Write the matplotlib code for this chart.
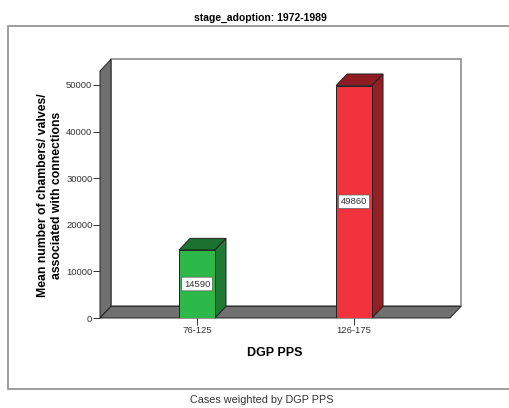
import matplotlib
matplotlib.use("Agg")
import matplotlib.pyplot as plt
from matplotlib.patches import Polygon, Rectangle

plt.rcParams['font.family'] = ['Liberation Sans', 'DejaVu Sans']

# data
categories = ["76-125", "126-175"]
values = [14590, 49860]
bar_labels = ["14590", "49860"]
y_ticks = [0, 10000, 20000, 30000, 40000, 50000]
front_colors = ["#2db84a", "#f2323c"]
top_colors = ["#1c7030", "#8f1c22"]
side_colors = ["#1f7a33", "#941f25"]

W, H = 510, 408
fig = plt.figure(figsize=(W / 100, H / 100), dpi=100)
fig.patch.set_facecolor("white")

# grey frame round the chart, has to sit under the axes
fig.add_artist(Rectangle((8 / W, 1 - 389 / H), 510 / W, 363 / H, transform=fig.transFigure,
                         fc="white", ec="#8c8c8c", lw=1.2, zorder=-1))

# front plane of the plot, 100..450 px wide, 71..318 px high
ax = fig.add_axes([100 / W, 1 - 318 / H, 350 / W, 247 / H])
ax.patch.set_alpha(0)
ax.set_xlim(-0.618, 1.611)
ax.set_ylim(0, 53000)
for s in ax.spines.values():
    s.set_visible(False)

dx = 0.07    # depth of the 3d effect, in category units
dy = 2500    # same in value units
x0, x1 = ax.get_xlim()
y0, y1 = ax.get_ylim()
wall = "#707070"
edge = "#222222"

# back wall, left wall, floor
ax.add_patch(Polygon([(x0 + dx, y0 + dy), (x1 + dx, y0 + dy), (x1 + dx, y1 + dy), (x0 + dx, y1 + dy)],
                     fc="white", ec="#8c8c8c", lw=1.2, clip_on=False, zorder=1))
ax.add_patch(Polygon([(x0, y0), (x0 + dx, y0 + dy), (x0 + dx, y1 + dy), (x0, y1)],
                     fc=wall, ec=edge, lw=0.7, clip_on=False, zorder=2))
ax.add_patch(Polygon([(x0, y0), (x1, y0), (x1 + dx, y0 + dy), (x0 + dx, y0 + dy)],
                     fc=wall, ec=edge, lw=0.7, clip_on=False, zorder=2))

width = 0.229
xs = list(range(len(categories)))
ax.bar(xs, values, width=width, color=front_colors, edgecolor=edge, linewidth=0.7, zorder=4)
for x, v, tc, sc, lab in zip(xs, values, top_colors, side_colors, bar_labels):
    l, r = x - width / 2, x + width / 2
    ax.add_patch(Polygon([(l, v), (r, v), (r + dx, v + dy), (l + dx, v + dy)],
                         fc=tc, ec=edge, lw=0.7, clip_on=False, zorder=3))
    ax.add_patch(Polygon([(r, 0), (r + dx, dy), (r + dx, v + dy), (r, v)],
                         fc=sc, ec=edge, lw=0.7, clip_on=False, zorder=3))
    ax.text(x, v / 2, lab, ha="center", va="center", fontsize=6.8, color="#333333", zorder=5,
            bbox=dict(boxstyle="round,pad=0.25,rounding_size=0.1", fc="white", ec="#555555", lw=0.5))

ax.set_xticks(xs)
ax.set_xticklabels(categories)
ax.set_yticks(y_ticks)
ax.tick_params(axis="both", labelsize=6.8, labelcolor="#333333", color="#333333",
               length=5, width=0.7, pad=0.5)
ax.set_xlabel("DGP PPS", fontsize=9, fontweight="bold", labelpad=9)

fig.text(50 / W, 1 - 195 / H, "Mean number of chambers/ valves/\nassociated with connections",
         rotation=90, ha="center", va="center", fontsize=8.8, fontweight="bold", linespacing=1.15)
fig.text(260 / W, 1 - 18 / H, "stage_adoption: 1972-1989", ha="center", va="center",
         fontsize=7.5, fontweight="bold")
fig.text(262 / W, 1 - 400 / H, "Cases weighted by DGP PPS", ha="center", va="center",
         fontsize=7.8, color="#333333")

fig.savefig("out.png", dpi=100)
